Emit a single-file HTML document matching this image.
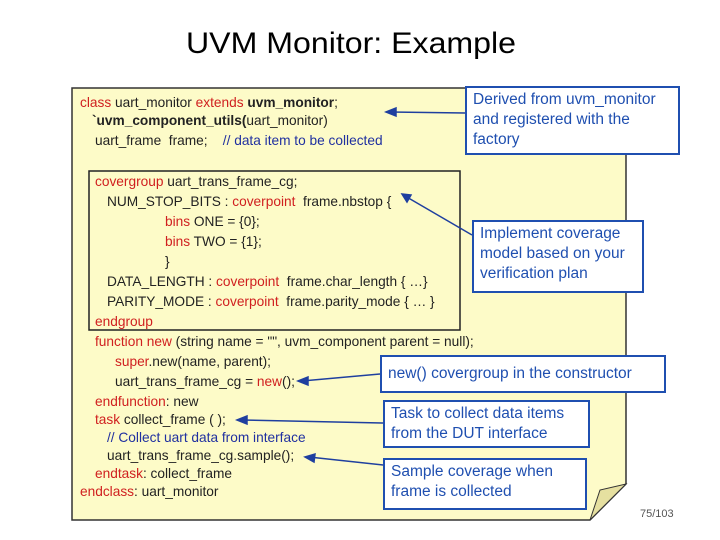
<!DOCTYPE html>
<html><head><style>
body{margin:0;width:720px;height:540px;background:#fff;position:relative;overflow:hidden;font-family:"Liberation Sans",sans-serif;}
.t{position:absolute;white-space:nowrap;font-size:13.7px;color:#222;}
.r{color:#d02020}
.b{color:#2030a0}
.cb{position:absolute;background:#fff;border:2px solid #1f4fb0;color:#1f4fb0;font-size:15.5px;line-height:20px;padding:2px 6px;box-sizing:border-box;}
</style></head><body>
<div class="t" style="left:186px;top:27px;font-size:30px;color:#000;transform:scaleX(1.07);transform-origin:left;">UVM Monitor: Example</div>
<svg style="position:absolute;left:0;top:0" width="720" height="540">
<polygon points="72,88 626,88 626,484 590,520 72,520" fill="#fdfbc8" stroke="#333" stroke-width="1.5"/>
<polygon points="590,520 600,490 626,484" fill="#e6e0a0" stroke="#333" stroke-width="1"/>
<rect x="89" y="171" width="371" height="159" fill="none" stroke="#222" stroke-width="1.5"/>
<g stroke="#1f3f9f" stroke-width="1.5" fill="#1f3f9f">
<line x1="465" y1="113" x2="390" y2="112"/><polygon points="386,112 396,108 396,116"/>
<line x1="472" y1="235" x2="405" y2="196"/><polygon points="402,194 411,195 407,202"/>
<line x1="380" y1="374" x2="302" y2="381"/><polygon points="298,381 308,377 308,385"/>
<line x1="383" y1="423" x2="241" y2="420"/><polygon points="237,420 247,416 247,424"/>
<line x1="383" y1="465" x2="309" y2="457"/><polygon points="305,457 315,454 314,462"/>
</g>
</svg>
<div class="t" style="left:80px;top:95px"><span class="r">class</span> uart_monitor <span class="r">extends</span> <b>uvm_monitor</b>;</div>
<div class="t" style="left:92px;top:113px"><b>`uvm_component_utils(</b>uart_monitor)</div>
<div class="t" style="left:95px;top:133px">uart_frame&nbsp; frame;&nbsp;&nbsp;&nbsp; <span class="b">// data item to be collected</span></div>
<div class="t" style="left:95px;top:174px"><span class="r">covergroup</span> uart_trans_frame_cg;</div>
<div class="t" style="left:107px;top:194px">NUM_STOP_BITS : <span class="r">coverpoint</span>&nbsp; frame.nbstop {</div>
<div class="t" style="left:165px;top:214px"><span class="r">bins</span> ONE = {0};</div>
<div class="t" style="left:165px;top:234px"><span class="r">bins</span> TWO = {1};</div>
<div class="t" style="left:165px;top:254px">}</div>
<div class="t" style="left:107px;top:274px">DATA_LENGTH : <span class="r">coverpoint</span>&nbsp; frame.char_length { …}</div>
<div class="t" style="left:107px;top:294px">PARITY_MODE : <span class="r">coverpoint</span>&nbsp; frame.parity_mode { … }</div>
<div class="t" style="left:95px;top:314px"><span class="r">endgroup</span></div>
<div class="t" style="left:95px;top:334px"><span class="r">function new</span> (string name = "", uvm_component parent = null);</div>
<div class="t" style="left:115px;top:354px"><span class="r">super</span>.new(name, parent);</div>
<div class="t" style="left:115px;top:374px">uart_trans_frame_cg = <span class="r">new</span>();</div>
<div class="t" style="left:95px;top:394px"><span class="r">endfunction</span>: new</div>
<div class="t" style="left:95px;top:412px"><span class="r">task</span> collect_frame ( );</div>
<div class="t" style="left:107px;top:430px"><span class="b">// Collect uart data from interface</span></div>
<div class="t" style="left:107px;top:448px">uart_trans_frame_cg.sample();</div>
<div class="t" style="left:95px;top:466px"><span class="r">endtask</span>: collect_frame</div>
<div class="t" style="left:80px;top:484px"><span class="r">endclass</span>: uart_monitor</div>
<div class="cb" style="left:465px;top:86px;width:215px;height:69px;">Derived from uvm_monitor and registered with the factory</div>
<div class="cb" style="left:472px;top:220px;width:172px;height:73px;">Implement coverage model based on your verification plan</div>
<div class="cb" style="left:380px;top:355px;width:286px;height:38px;line-height:30px;">new() covergroup in the constructor</div>
<div class="cb" style="left:383px;top:400px;width:207px;height:48px;">Task to collect data items from the DUT interface</div>
<div class="cb" style="left:383px;top:458px;width:204px;height:52px;">Sample coverage when frame is collected</div>
<div class="t" style="left:640px;top:508px;font-size:11px;color:#555">75/103</div>
</body></html>
